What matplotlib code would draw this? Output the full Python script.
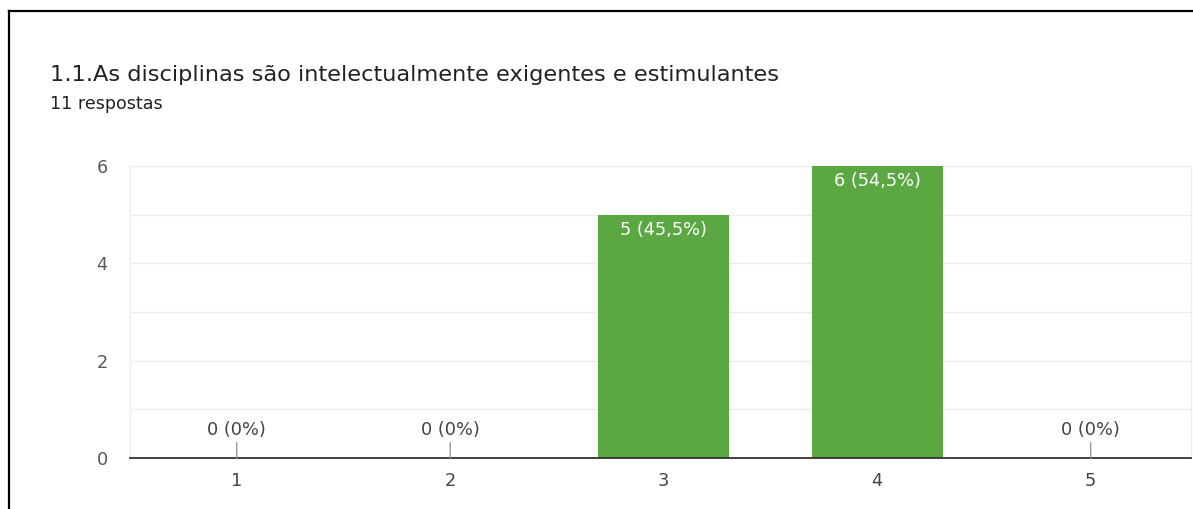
import matplotlib
matplotlib.use("Agg")
import matplotlib.pyplot as plt
from matplotlib.lines import Line2D

plt.rcParams['font.family'] = ['DejaVu Sans']

title = "1.1.As disciplinas são intelectualmente exigentes e estimulantes"
subtitle = "11 respostas"
categories = ["1", "2", "3", "4", "5"]
counts = [0, 0, 5, 6, 0]
percent_labels = ["0%", "0%", "45,5%", "54,5%", "0%"]
y_ticks = [0, 2, 4, 6]

W, H = 1193, 509
fig = plt.figure(figsize=(W / 100, H / 100), dpi=100)
fig.patch.set_facecolor("white")

ax = fig.add_axes([130 / W, (H - 458) / H, (1191 - 130) / W, (458 - 166) / H])
x = list(range(1, len(categories) + 1))
bar_color = "#5ba843"
ax.bar(x, counts, width=0.615, color=bar_color, zorder=3)

ax.set_xlim(0.5, 5.47)
ax.set_ylim(0, 6)
ax.set_yticks(y_ticks)
ax.set_yticks(range(0, 7), minor=True)
ax.grid(True, which="both", axis="y", color="#ececec", linewidth=1.0, zorder=0)
ax.set_xticks(x)
ax.set_xticklabels(categories)
ax.tick_params(axis="both", which="both", length=0, labelsize=12.8)
ax.tick_params(axis="y", pad=16, labelcolor="#5a5a5a")
ax.tick_params(axis="x", pad=10, labelcolor="#444444")
for side in ["top", "right", "left"]:
    ax.spines[side].set_color("#ececec")
    ax.spines[side].set_linewidth(1.0)
ax.spines["top"].set_visible(False)
ax.spines["bottom"].set_color("#333333")
ax.spines["bottom"].set_linewidth(1.3)
ax.spines["bottom"].set_zorder(4)

for xi, c, p in zip(x, counts, percent_labels):
    label = f"{c} ({p})"
    if c > 0:
        ax.annotate(label, (xi, c), xytext=(0, -4.5), textcoords="offset points",
                    ha="center", va="top", color="white", fontsize=12.8, zorder=5)
    else:
        ax.annotate(label, (xi, c), xytext=(0, 14), textcoords="offset points",
                    ha="center", va="bottom", color="#444444", fontsize=12.8, zorder=5,
                    arrowprops=dict(arrowstyle="-", color="#999999", lw=1.0,
                                    shrinkA=1, shrinkB=0))

fig.text(50 / W, 1 - 81 / H, title, fontsize=16.2, color="#222222", ha="left", va="baseline")
fig.text(50 / W, 1 - 109 / H, subtitle, fontsize=12.6, color="#222222", ha="left", va="baseline")

# outer frame: top and left edges
fig.add_artist(Line2D([9 / W, 1.0], [1 - 11 / H, 1 - 11 / H], color="black", lw=1.6))
fig.add_artist(Line2D([9 / W, 9 / W], [0.0, 1 - 11 / H], color="black", lw=1.6))

fig.savefig("out.png", dpi=100, facecolor="white")
